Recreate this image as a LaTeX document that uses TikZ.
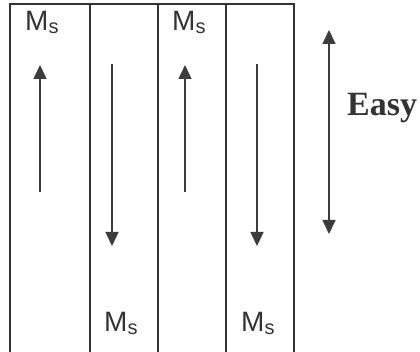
\documentclass[tikz,border=0pt]{standalone}
\usepackage{fontspec}
\setmainfont{Liberation Serif}
\newfontfamily\arialfont{Liberation Sans}
\usetikzlibrary{arrows.meta}
\newcommand{\MsLabel}{{\arialfont\fontsize{28}{28}\selectfont M\raisebox{-3pt}{\fontsize{20}{20}\selectfont s}}}
\definecolor{linegray}{HTML}{333333}
\definecolor{arrowgray}{HTML}{3C3C3C}
\begin{document}
\begin{tikzpicture}[x=1pt,y=-1pt,
  boxline/.style={draw=linegray,line width=2.2pt},
  moment/.style={draw=arrowgray,line width=1.5pt,-{Triangle[length=14pt,width=13pt]}},
  easyaxis/.style={draw=arrowgray,line width=1.5pt,{Triangle[length=14pt,width=13pt]}-{Triangle[length=14pt,width=13pt]}},
  mslabel/.style={anchor=base west,inner sep=0pt,text=linegray},
  easylabel/.style={anchor=base west,inner sep=0pt,text=linegray,font=\bfseries\fontsize{34}{34}\selectfont}]
\useasboundingbox (0,0) rectangle (420,352);
% box
\draw[boxline] (10,354) -- (10,4) -- (294,4) -- (294,354);
\foreach \x in {90,158,226} \draw[boxline] (\x,4) -- (\x,354);
% labels
\node[mslabel] (ms1) at (25,31) {\MsLabel};
\node[mslabel] (ms3) at (172,31) {\MsLabel};
\node[mslabel] (ms2) at (104,331) {\MsLabel};
\node[mslabel] (ms4) at (241,331) {\MsLabel};
% arrows
\coordinate (a1s) at (40,192); \coordinate (a1e) at (40,65);
\coordinate (a2s) at (112,64); \coordinate (a2e) at (112,246);
\coordinate (a3s) at (185,192); \coordinate (a3e) at (185,65);
\coordinate (a4s) at (257,64); \coordinate (a4e) at (257,246);
\draw[moment] (a1s) -- (a1e);
\draw[moment] (a2s) -- (a2e);
\draw[moment] (a3s) -- (a3e);
\draw[moment] (a4s) -- (a4e);
\coordinate (ea1) at (329,30); \coordinate (ea2) at (329,234);
\draw[easyaxis] (ea1) -- (ea2);
\node[easylabel] (easy) at (347,116) {Easy};
\end{tikzpicture}
\end{document}
